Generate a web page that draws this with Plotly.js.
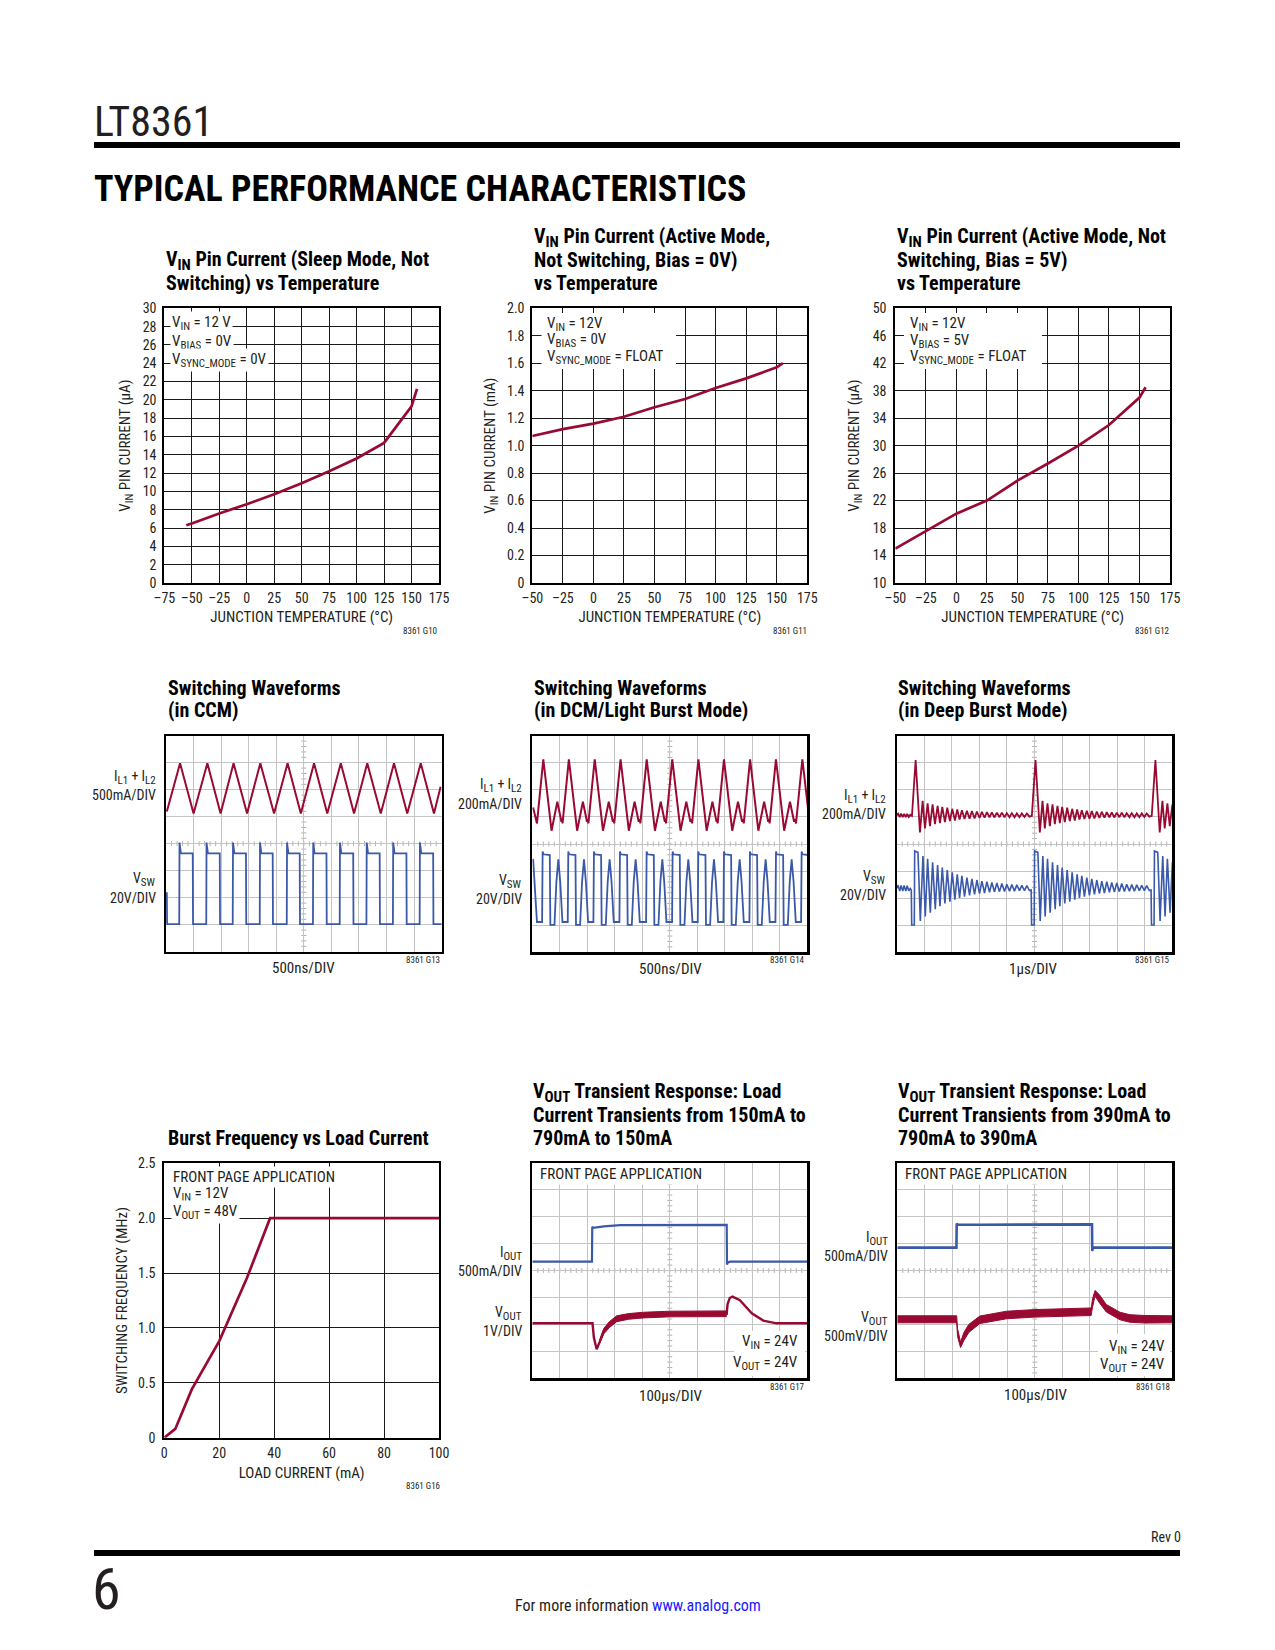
<!DOCTYPE html>
<html><head><meta charset="utf-8">
<script src="https://cdn.plot.ly/plotly-3.0.1.min.js"></script>
<style>html,body{margin:0;padding:0;background:#fff;}#page{width:1275px;height:1650px;}</style>
</head><body><div id="page"></div>
<script>
// ---------------- DATA ----------------
// Chart 1: VIN pin current, sleep mode (µA) vs temperature
const sleepTemp = [-55,-50,-25,0,25,50,75,100,125,150,155];
const sleepCurrent = [6.3,6.5,7.6,8.6,9.7,10.9,12.2,13.6,15.3,19.3,21.2];
const sleepXTicks = [-75,-50,-25,0,25,50,75,100,125,150,175];
const sleepYTicks = [0,2,4,6,8,10,12,14,16,18,20,22,24,26,28,30];
// Chart 2: active mode, bias = 0V (mA)
const act0Temp = [-50,-25,0,25,50,75,100,125,150,155];
const act0Current = [1.07,1.12,1.16,1.21,1.28,1.34,1.42,1.49,1.57,1.60];
const actXTicks = [-50,-25,0,25,50,75,100,125,150,175];
const act0YTicks = [0,0.2,0.4,0.6,0.8,1.0,1.2,1.4,1.6,1.8,2.0];
const act0YLabels = ['0','0.2','0.4','0.6','0.8','1.0','1.2','1.4','1.6','1.8','2.0'];
// Chart 3: active mode, bias = 5V (µA)
const act5Temp = [-50,-25,0,25,50,75,100,125,150,155];
const act5Current = [15.0,17.5,20.1,22.0,24.9,27.4,30.0,33.0,37.0,38.5];
const act5YTicks = [10,14,18,22,26,30,34,38,42,46,50];
// Chart 7: burst frequency vs load current
const loadCurrent = [0,4,10,20,30,38.5,100];
const burstFreq = [0,0.08,0.44,0.88,1.45,2.0,2.0];
const loadXTicks = [0,20,40,60,80,100];
const freqYTicks = [0,0.5,1.0,1.5,2.0,2.5];
const freqYLabels = ['0','0.5','1.0','1.5','2.0','2.5'];

// Scope waveforms (units: divisions, x 0..10, y 0..8)
// CCM
const ccmIlT = [0.03,0.51,1.00,1.50,1.98,2.45,2.94,3.42,3.92,4.41,4.89,5.37,5.85,6.34,6.82,7.30,7.79,8.27,8.75,9.24,9.72,9.96];
const ccmIlV = [5.19,6.98,5.12,6.98,5.12,6.98,5.12,6.98,5.12,6.98,5.12,6.98,5.12,6.98,5.12,6.98,5.12,6.98,5.12,6.98,5.12,6.11];
const ccmSwRise = [0.48,1.46,2.42,3.40,4.38,5.33,6.30,7.27,8.23,9.20];
const ccmSwFall = [0.98,1.96,2.91,3.88,4.86,5.83,6.80,7.76,8.73,9.70];
const ccmSwLevels = [1.02,3.64,4.04]; // low, high, edge spike
// DCM / light burst
const dcmIlPeak = [0.40,1.33,2.27,3.21,4.16,5.09,6.04,6.97,7.92,8.86,9.82];
const dcmIlCycleDt = [-0.23,0,0.30,0.51,0.66,0.69];
const dcmIlCycleV = [4.76,7.13,4.49,5.56,4.82,4.92];
const dcmSwRise = [0.376,1.309,2.242,3.188,4.158,5.103,6.036,6.970,7.915,8.861,9.794];
const dcmSwCycleDt = [-0.02,0,0.03,0.26,0.28,0.43,0.50,0.57,0.64,0.72];
const dcmSwCycleV = [1.12,3.72,3.62,3.59,1.01,1.01,2.6,3.43,2.6,1.12];
const dcmSwStartT = [0.03,0.09,0.17];
const dcmSwStartV = [3.45,2.4,1.12];
// Deep burst
const deepBurstOffset = [0,4.35,8.70];
const deepIlPreT = [0.0,0.05,0.11,0.16,0.22,0.27,0.33,0.38,0.44,0.49];
const deepIlPreV = [5.06,5.12,4.99,5.12,4.99,5.11,4.99,5.11,5.00,5.08];
const deepIlT = [0.554,0.687,0.844,0.941,1.025,1.122,1.207,1.303,1.388,1.484,1.569,1.654,1.750,1.835,1.931,2.016,2.112,2.197,2.281,2.366,2.462,2.547,2.644,2.728,2.825,2.909,3.006,3.091,3.187,3.272,3.368,3.453,3.549,3.634,3.730,3.815,3.912,3.996,4.093,4.178,4.274,4.359,4.455,4.540,4.636,4.721,4.818];
const deepIlV = [5.04,7.10,4.43,5.59,4.58,5.50,4.66,5.46,4.73,5.41,4.77,5.37,4.81,5.34,4.85,5.30,4.87,5.28,4.90,5.25,4.92,5.23,4.93,5.22,4.94,5.20,4.96,5.19,4.97,5.18,4.98,5.17,4.98,5.16,4.99,5.16,4.99,5.14,4.99,5.14,4.99,5.13,4.99,5.13,5.00,5.13,5.01];
const deepSwPreT = [0.0,0.05,0.11,0.16,0.22,0.27,0.33,0.38,0.44,0.49];
const deepSwPreV = [2.36,2.48,2.26,2.47,2.26,2.47,2.26,2.46,2.27,2.36];
const deepSwT = [0.530,0.545,0.639,0.652,0.772,0.857,0.953,1.037,1.122,1.219,1.303,1.400,1.484,1.569,1.654,1.750,1.835,1.931,2.016,2.112,2.197,2.281,2.366,2.462,2.547,2.644,2.728,2.825,2.909,3.006,3.091,3.187,3.272,3.368,3.453,3.549,3.634,3.730,3.815,3.912,3.996,4.093,4.178,4.274,4.359,4.455,4.540,4.636,4.721,4.818];
const deepSwV = [2.30,1.01,1.01,3.74,3.69,1.16,3.56,1.32,3.45,1.46,3.32,1.59,3.22,1.70,3.13,1.80,3.04,1.87,2.95,1.94,2.88,2.01,2.82,2.06,2.76,2.10,2.71,2.14,2.67,2.17,2.63,2.19,2.61,2.22,2.58,2.23,2.56,2.24,2.54,2.25,2.51,2.26,2.50,2.26,2.49,2.28,2.47,2.28,2.46,2.28];
// Transient 150mA -> 790mA -> 150mA
const tr1IoutT = [0,2.17,2.18,2.22,2.6,3.2,7.07,7.08,7.11,7.2,10];
const tr1IoutV = [4.33,4.33,5.62,5.58,5.64,5.68,5.69,4.22,4.30,4.33,4.33];
const tr1VoutT = [0,2.19,2.24,2.34,2.45,2.6,2.8,3.07,3.5,4.04,5.0,7.07,7.10,7.18,7.28,7.55,7.98,8.4,8.88,10];
const tr1VoutV = [2.04,2.04,1.5,1.08,1.35,1.75,2.0,2.22,2.3,2.35,2.39,2.39,2.75,2.98,3.03,2.9,2.41,2.14,2.04,2.04];
const tr1BandT = [2.45,2.6,2.8,3.07,3.5,4.04,5.0,6.0,7.07];
const tr1BandLo = [1.30,1.65,1.88,2.10,2.19,2.24,2.28,2.29,2.29];
const tr1BandHi = [1.42,1.85,2.10,2.32,2.40,2.45,2.49,2.50,2.50];
// Transient 390mA -> 790mA -> 390mA
const tr2IoutT = [0,2.15,2.16,2.2,3.0,7.08,7.09,7.11,7.2,10];
const tr2IoutV = [4.85,4.85,5.74,5.70,5.70,5.71,4.72,4.85,4.85,4.85];
const tr2VoutT = [0,2.16,2.19,2.30,2.42,2.6,3.0,3.98,5.0,5.67,7.05,7.10,7.19,7.35,7.6,8.1,8.46,9.0,10];
const tr2VoutLo = [2.06,2.06,1.55,1.14,1.40,1.70,2.03,2.21,2.27,2.29,2.33,2.65,3.05,2.80,2.46,2.17,2.08,2.05,2.06];
const tr2VoutHi = [2.32,2.32,1.85,1.34,1.70,2.00,2.31,2.49,2.55,2.57,2.61,2.95,3.26,3.10,2.74,2.45,2.36,2.33,2.32];

// ---------------- HELPERS ----------------
const W = 1275, H = 1650;
const px = x => x / W, py = y => 1 - y / H;
const RED = '#990a33', BLUE = '#3b59a9', INK = '#231f20';
const NARROW = '"Liberation Sans Narrow", "Roboto Condensed", "Arial Narrow", Roboto, sans-serif';
const ref = (i, a) => a + (i === 1 ? '' : i);
const axKey = (i, a) => a + 'axis' + (i === 1 ? '' : i);
const dash = v => String(v).replace('-', '\u2013');
// subscript as one styled span (no extra baseline-reset element)
const sb = (s, size, shift) => '<span style="font-size:' + size + 'px;baseline-shift:-' + shift + 'px">' + s + '</span>';
const sA = s => sb(s, 11, 3);   // in-plot notes / labels
const sT = s => sb(s, 15, 4);   // chart titles

const layout = {
  width: W, height: H, margin: {l: 0, r: 0, t: 0, b: 0},
  paper_bgcolor: '#fff', plot_bgcolor: '#fff', showlegend: false, hovermode: false,
  font: {family: NARROW, color: INK, size: 14},
  annotations: [], shapes: []
};
const traces = [];

function ann(text, x, y, o) {
  layout.annotations.push(Object.assign({
    text: text, x: px(x), y: py(y), xref: 'paper', yref: 'paper', showarrow: false,
    xanchor: 'left', yanchor: 'middle', font: {family: NARROW, size: 15, color: INK}
  }, o || {}));
}
function lab(text, x, y) {
  ann(text, x, y, {xanchor: 'right', font: {family: NARROW, size: 14, color: INK}});
}
function title(lines, x, ys) {
  lines.forEach((t, k) => ann(t, x, ys[k], {font: {family: NARROW, size: 20, color: '#000', weight: 700}}));
}
function figId(text, x, y) {
  ann(text, x, y, {xanchor: 'right', font: {family: NARROW, size: 9, color: INK}});
}
function rectPx(x0, y0, x1, y1, fill) {
  layout.shapes.push({type: 'rect', xref: 'paper', yref: 'paper', x0: px(x0), x1: px(x1), y0: py(y1), y1: py(y0),
    fillcolor: fill, line: {width: 0}, layer: 'above'});
}

function dataChart(i, box, xr, yr, xt, yt, ytl, xTitle, yTitle, xStand, yStand, tlen) {
  layout[axKey(i, 'x')] = {
    domain: [px(box[0]), px(box[1])], range: xr, anchor: ref(i, 'y'),
    tickmode: 'array', tickvals: xt, ticktext: xt.map(dash),
    showgrid: true, gridcolor: '#1a1a1a', gridwidth: 1, zeroline: false,
    showline: true, mirror: true, linecolor: '#000', linewidth: 2,
    ticks: 'outside', ticklen: tlen[0], tickcolor: 'rgba(0,0,0,0)', tickfont: {size: 14, color: INK},
    title: {text: xTitle, standoff: xStand, font: {size: 15, color: INK}}, fixedrange: true
  };
  layout[axKey(i, 'y')] = {
    domain: [py(box[3]), py(box[2])], range: yr, anchor: ref(i, 'x'),
    tickmode: 'array', tickvals: yt, ticktext: ytl,
    showgrid: true, gridcolor: '#1a1a1a', gridwidth: 1, zeroline: false,
    showline: true, mirror: true, linecolor: '#000', linewidth: 2,
    ticks: 'outside', ticklen: tlen[1], tickcolor: 'rgba(0,0,0,0)', tickfont: {size: 14, color: INK},
    title: {text: yTitle, standoff: yStand, font: {size: 15, color: INK}}, fixedrange: true
  };
}
function scopeChart(i, box) {
  const common = {showgrid: true, gridcolor: '#c4c4c4', gridwidth: 1, zeroline: false, dtick: 1, tick0: 0,
    showticklabels: false, ticks: '', showline: true, mirror: true, linecolor: '#000', linewidth: 2.2, fixedrange: true};
  layout[axKey(i, 'x')] = Object.assign({domain: [px(box[0]), px(box[1])], range: [0, 10], anchor: ref(i, 'y')}, common);
  layout[axKey(i, 'y')] = Object.assign({domain: [py(box[3]), py(box[2])], range: [0, 8], anchor: ref(i, 'x')}, common);
  // minor graticule ticks on the centre lines
  for (let k = 1; k < 50; k++) {
    layout.shapes.push({type: 'line', xref: ref(i, 'x'), yref: ref(i, 'y'), x0: k * 0.2, x1: k * 0.2, y0: 3.91, y1: 4.09,
      line: {color: '#b0b0b0', width: 1}, layer: 'below'});
  }
  for (let k = 1; k < 40; k++) {
    layout.shapes.push({type: 'line', xref: ref(i, 'x'), yref: ref(i, 'y'), x0: 4.91, x1: 5.09, y0: k * 0.2, y1: k * 0.2,
      line: {color: '#b0b0b0', width: 1}, layer: 'below'});
  }
}
function line(i, x, y, color, width, extra) {
  traces.push(Object.assign({type: 'scatter', mode: 'lines', x: x, y: y, xaxis: ref(i, 'x'), yaxis: ref(i, 'y'),
    line: {color: color, width: width}, hoverinfo: 'skip'}, extra || {}));
}

// ---------------- PAGE ----------------
ann('LT8361', 92, 121, {font: {family: NARROW, size: 42, color: INK}});
rectPx(94, 142, 1180, 148, '#000');
ann('TYPICAL PERFORMANCE CHARACTERISTICS', 92, 189, {font: {family: NARROW, size: 36, color: '#000', weight: 700}});
ann('Rev 0', 1183, 1537, {xanchor: 'right', font: {family: NARROW, size: 14, color: INK}});
rectPx(94, 1550, 1180, 1556, '#000');
ann('6', 90, 1589, {font: {family: NARROW, size: 58, color: INK}});
ann('For more information <span style="color:#1a1aff">www.analog.com</span>', 638, 1605,
  {xanchor: 'center', font: {family: NARROW, size: 16, color: INK}});

// ---------------- CHART 1 ----------------
dataChart(1, [164.3, 439, 308.3, 583], [-75, 175], [0, 30], sleepXTicks, sleepYTicks, sleepYTicks.map(String),
  'JUNCTION TEMPERATURE (°C)', 'V' + sA('IN') + ' PIN CURRENT (µA)', 7, 8, [1, 3]);
line(1, sleepTemp, sleepCurrent, RED, 2.7);
title(['V' + sT('IN') + ' Pin Current (Sleep Mode, Not', 'Switching) vs Temperature'], 164, [260, 283]);
ann('V' + sA('IN') + ' = 12 V', 170, 323, {bgcolor: '#fff', borderpad: 1});
ann('V' + sA('BIAS') + ' = 0V', 170, 341.5, {bgcolor: '#fff', borderpad: 1});
ann('V' + sA('SYNC_MODE') + ' = 0V', 170, 359.5, {bgcolor: '#fff', borderpad: 1});
figId('8361 G10', 439, 631);

// ---------------- CHART 2 ----------------
dataChart(2, [532.3, 807.3, 308.3, 583], [-50, 175], [0, 2], actXTicks, act0YTicks, act0YLabels,
  'JUNCTION TEMPERATURE (°C)', 'V' + sA('IN') + ' PIN CURRENT (mA)', 7, 8, [1, 3]);
line(2, act0Temp, act0Current, RED, 2.7);
title(['V' + sT('IN') + ' Pin Current (Active Mode,', 'Not Switching, Bias = 0V)', 'vs Temperature'], 532, [237, 260, 283]);
rectPx(541.5, 313, 676, 369, '#fff');
ann('V' + sA('IN') + ' = 12V', 545, 324);
ann('V' + sA('BIAS') + ' = 0V', 545, 340.5);
ann('V' + sA('SYNC_MODE') + ' = FLOAT', 545, 357);
figId('8361 G11', 809, 631);

// ---------------- CHART 3 ----------------
dataChart(3, [895.3, 1170, 308.3, 583], [-50, 175], [10, 50], actXTicks, act5YTicks, act5YTicks.map(String),
  'JUNCTION TEMPERATURE (°C)', 'V' + sA('IN') + ' PIN CURRENT (µA)', 7, 9, [1, 4]);
line(3, act5Temp, act5Current, RED, 2.7);
title(['V' + sT('IN') + ' Pin Current (Active Mode, Not', 'Switching, Bias = 5V)', 'vs Temperature'], 895, [237, 260, 283]);
rectPx(904, 313, 1042, 369, '#fff');
ann('V' + sA('IN') + ' = 12V', 907.5, 324);
ann('V' + sA('BIAS') + ' = 5V', 907.5, 340.7);
ann('V' + sA('SYNC_MODE') + ' = FLOAT', 907.5, 357.3);
figId('8361 G12', 1172, 631);

// ---------------- CHART 4: CCM ----------------
scopeChart(4, [166, 441.7, 735.7, 951.7]);
line(4, ccmIlT, ccmIlV, RED, 2);
(function () {
  const [lo, hi, sp] = ccmSwLevels; const x = [0.03, 0.04], y = [2.2, lo];
  ccmSwRise.forEach((r, k) => { const f = ccmSwFall[k];
    x.push(r, r + 0.01, r + 0.06, f - 0.01, f); y.push(lo, sp, hi, hi, lo); });
  x.push(10); y.push(lo);
  line(4, x, y, BLUE, 1.8);
})();
title(['Switching Waveforms', '(in CCM)'], 166, [688, 710]);
lab('I' + sA('L1') + ' + I' + sA('L2'), 158, 777);
lab('500mA/DIV', 158, 795);
lab('V' + sA('SW'), 158, 879);
lab('20V/DIV', 158, 898);
ann('500ns/DIV', 303.5, 968, {xanchor: 'center'});
figId('8361 G13', 441.7, 960);

// ---------------- CHART 5: DCM ----------------
scopeChart(5, [532.3, 807.3, 735.7, 952.3]);
(function () {
  const x = [0.03], y = [5.35];
  dcmIlPeak.forEach(q => dcmIlCycleDt.forEach((d, j) => { x.push(q + d); y.push(dcmIlCycleV[j]); }));
  line(5, x, y, RED, 2);
  const sx = dcmSwStartT.slice(), sy = dcmSwStartV.slice();
  dcmSwRise.forEach(p => dcmSwCycleDt.forEach((d, j) => { sx.push(p + d); sy.push(dcmSwCycleV[j]); }));
  line(5, sx, sy, BLUE, 1.8);
})();
title(['Switching Waveforms', '(in DCM/Light Burst Mode)'], 532, [688, 710]);
lab('I' + sA('L1') + ' + I' + sA('L2'), 524, 786);
lab('200mA/DIV', 524, 804);
lab('V' + sA('SW'), 524, 881);
lab('20V/DIV', 524, 899);
ann('500ns/DIV', 670, 969, {xanchor: 'center'});
figId('8361 G14', 807.3, 960);

// ---------------- CHART 6: Deep burst ----------------
scopeChart(6, [896.7, 1172.3, 735.7, 952.3]);
(function () {
  const ix = deepIlPreT.slice(), iy = deepIlPreV.slice();
  const sx = deepSwPreT.slice(), sy = deepSwPreV.slice();
  deepBurstOffset.forEach(o => {
    deepIlT.forEach((t, k) => { ix.push(t + o); iy.push(deepIlV[k]); });
    deepSwT.forEach((t, k) => { sx.push(t + o); sy.push(deepSwV[k]); });
  });
  line(6, ix, iy, RED, 1.8);
  line(6, sx, sy, BLUE, 1.6);
})();
title(['Switching Waveforms', '(in Deep Burst Mode)'], 896, [688, 710]);
lab('I' + sA('L1') + ' + I' + sA('L2'), 888, 796);
lab('200mA/DIV', 888, 814);
lab('V' + sA('SW'), 888, 877);
lab('20V/DIV', 888, 895);
ann('1µs/DIV', 1033.5, 969, {xanchor: 'center'});
figId('8361 G15', 1172.3, 960);

// ---------------- CHART 7: Burst frequency ----------------
dataChart(7, [164.3, 439, 1163.3, 1437.7], [0, 100], [0, 2.5], loadXTicks, freqYTicks, freqYLabels,
  'LOAD CURRENT (mA)', 'SWITCHING FREQUENCY (MHz)', 8, 7, [1, 4]);
line(7, loadCurrent, burstFreq, RED, 2.7);
title(['Burst Frequency vs Load Current'], 166, [1138]);
ann('FRONT PAGE APPLICATION', 171, 1177, {bgcolor: '#fff', borderpad: 1});
ann('V' + sA('IN') + ' = 12V', 171, 1194, {bgcolor: '#fff', borderpad: 1});
ann('V' + sA('OUT') + ' = 48V', 171, 1211.5, {bgcolor: '#fff', borderpad: 1});
figId('8361 G16', 441.7, 1486);

// ---------------- CHART 8: Transient 150/790 ----------------
scopeChart(8, [532.3, 807.3, 1162.7, 1378.3]);
line(8, tr1IoutT, tr1IoutV, BLUE, 2.2);
line(8, tr1BandT, tr1BandLo, RED, 1);
line(8, tr1BandT, tr1BandHi, RED, 1, {fill: 'tonexty', fillcolor: RED});
line(8, tr1VoutT, tr1VoutV, RED, 2.4);
title(['V' + sT('OUT') + ' Transient Response: Load', 'Current Transients from 150mA to', '790mA to 150mA'], 531, [1092, 1115, 1138]);
ann('FRONT PAGE APPLICATION', 537.5, 1174, {bgcolor: '#fff', borderpad: 1});
rectPx(734, 1331, 805, 1376, '#fff');
ann('V' + sA('IN') + ' = 24V', 800, 1342, {xanchor: 'right'});
ann('V' + sA('OUT') + ' = 24V', 800, 1363, {xanchor: 'right'});
lab('I' + sA('OUT'), 524, 1253);
lab('500mA/DIV', 524, 1271);
lab('V' + sA('OUT'), 524, 1313);
lab('1V/DIV', 524, 1331);
ann('100µs/DIV', 670, 1396, {xanchor: 'center'});
figId('8361 G17', 807.3, 1387);

// ---------------- CHART 9: Transient 390/790 ----------------
scopeChart(9, [897.3, 1172.3, 1162.7, 1378.3]);
line(9, tr2IoutT, tr2IoutV, BLUE, 2.6);
line(9, tr2VoutT, tr2VoutLo, RED, 1);
line(9, tr2VoutT, tr2VoutHi, RED, 1, {fill: 'tonexty', fillcolor: RED});
title(['V' + sT('OUT') + ' Transient Response: Load', 'Current Transients from 390mA to', '790mA to 390mA'], 896, [1092, 1115, 1138]);
ann('FRONT PAGE APPLICATION', 902.5, 1174, {bgcolor: '#fff', borderpad: 1});
rectPx(1098, 1334, 1170, 1376, '#fff');
ann('V' + sA('IN') + ' = 24V', 1166.5, 1346.5, {xanchor: 'right'});
ann('V' + sA('OUT') + ' = 24V', 1166.5, 1365, {xanchor: 'right'});
lab('I' + sA('OUT'), 890, 1238);
lab('500mA/DIV', 890, 1256);
lab('V' + sA('OUT'), 890, 1318);
lab('500mV/DIV', 890, 1336);
ann('100µs/DIV', 1035, 1395, {xanchor: 'center'});
figId('8361 G18', 1172.3, 1387);

Plotly.newPlot('page', traces, layout, {staticPlot: true, displayModeBar: false});
</script>
</body></html>
